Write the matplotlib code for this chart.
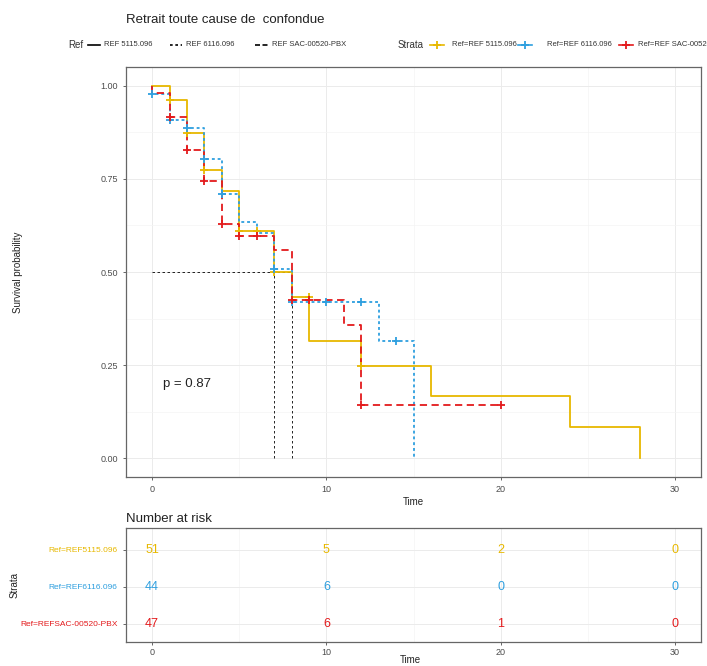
import matplotlib
matplotlib.use("Agg")
import matplotlib.pyplot as plt
from matplotlib.lines import Line2D
from matplotlib.ticker import MultipleLocator

plt.rcParams['font.family'] = ['Liberation Sans', 'DejaVu Sans']

# ---------------- data ----------------
strata_names = ["REF 5115.096", "REF 6116.096", "REF SAC-00520-PBX"]
colors = ["#E7B800", "#2E9FDF", "#E31A1C"]

# Kaplan-Meier step curves (time, survival)
t_5115 = [0, 1, 2, 3, 4, 5, 7, 8, 9, 12, 16, 24, 28]
s_5115 = [1.0, 0.961, 0.874, 0.775, 0.716, 0.609, 0.499, 0.434, 0.314, 0.249, 0.166, 0.083, 0.0]
cens_t_5115 = [1, 2, 3, 5, 6, 7, 9, 12]
cens_s_5115 = [0.961, 0.874, 0.775, 0.609, 0.609, 0.499, 0.434, 0.249]

t_6116 = [0, 0, 1, 2, 3, 4, 5, 6, 7, 8, 13, 15]
s_6116 = [1.0, 0.977, 0.909, 0.886, 0.803, 0.708, 0.635, 0.605, 0.509, 0.419, 0.314, 0.0]
cens_t_6116 = [0, 1, 2, 3, 4, 7, 8, 10, 12, 14]
cens_s_6116 = [0.977, 0.909, 0.886, 0.803, 0.708, 0.509, 0.419, 0.419, 0.419, 0.314]

t_sac = [0, 0, 1, 2, 3, 4, 5, 7, 8, 11, 12, 20]
s_sac = [1.0, 0.979, 0.915, 0.826, 0.745, 0.630, 0.597, 0.558, 0.426, 0.357, 0.143, 0.143]
cens_t_sac = [1, 2, 3, 4, 5, 6, 8, 9, 12, 20]
cens_s_sac = [0.915, 0.826, 0.745, 0.630, 0.597, 0.597, 0.426, 0.426, 0.143, 0.143]

# median survival
median_times = [7, 8]
median_level = 0.5

p_text = "p = 0.87"

# number at risk
risk_times = [0, 10, 20, 30]
risk_5115 = [51, 5, 2, 0]
risk_6116 = [44, 6, 0, 0]
risk_sac = [47, 6, 1, 0]
risk_labels = ["Ref=REF5115.096", "Ref=REF6116.096", "Ref=REFSAC-00520-PBX"]

# ---------------- figure ----------------
W, H = 707, 666
fig = plt.figure(figsize=(W / 100, H / 100), dpi=100)


def fx(px):
    return px / W


def fy(py):
    return 1 - py / H


ax = fig.add_axes([fx(126), fy(477), fx(701) - fx(126), fy(67) - fy(477)])
axr = fig.add_axes([fx(126), fy(642), fx(701) - fx(126), fy(528) - fy(642)])

grid_major = "#EBEBEB"
grid_minor = "#F4F4F4"
border = "#666666"
tick_col = "#4D4D4D"
text_col = "#222222"

for a in (ax, axr):
    for sp in a.spines.values():
        sp.set_color(border)
        sp.set_linewidth(0.9)
    a.tick_params(colors=tick_col, labelsize=6.5, length=2.5, width=0.6)
    a.set_axisbelow(True)

# main plot
styles = ["-", (0, (1.6, 1.6)), (0, (4, 2.5))]
curves = [(t_5115, s_5115, cens_t_5115, cens_s_5115),
          (t_6116, s_6116, cens_t_6116, cens_s_6116),
          (t_sac, s_sac, cens_t_sac, cens_s_sac)]

ax.hlines(median_level, 0, max(median_times), colors="black", linewidth=0.6,
          linestyles=(0, (3, 3)), zorder=2)
ax.vlines(median_times, 0, median_level, colors="black", linewidth=0.6,
          linestyles=(0, (3, 3)), zorder=2)

for (t, s, ct, cs), c, ls in zip(curves, colors, styles):
    ax.step(t, s, where="post", color=c, linestyle=ls, linewidth=1.3, zorder=3)
    ax.plot(ct, cs, linestyle="none", marker="+", markersize=6, mew=1.3,
            color=c, zorder=4)

ax.set_xlim(-1.5, 31.5)
ax.set_ylim(-0.05, 1.05)
ax.set_xticks([0, 10, 20, 30])
ax.set_yticks([0, 0.25, 0.5, 0.75, 1.0])
ax.set_yticklabels(["0.00", "0.25", "0.50", "0.75", "1.00"])
ax.xaxis.set_minor_locator(MultipleLocator(5))
ax.yaxis.set_minor_locator(MultipleLocator(0.125))
ax.tick_params(which="minor", length=0)
ax.grid(which="major", color=grid_major, linewidth=0.7)
ax.grid(which="minor", color=grid_minor, linewidth=0.5)
ax.set_xlabel("Time", fontsize=7, labelpad=2, color=text_col)
ax.text(0.65, 0.20, p_text, fontsize=9.5, color=text_col, va="center", ha="left")
fig.text(fx(18), fy(272), "Survival probability", fontsize=7, rotation=90,
         ha="center", va="center", color=text_col)

# risk table
rows = [3, 2, 1]
risks = [risk_5115, risk_6116, risk_sac]
for r, vals, c in zip(rows, risks, colors):
    for t, v in zip(risk_times, vals):
        axr.text(t, r, str(v), color=c, fontsize=9, ha="center", va="center")
axr.set_xlim(-1.5, 31.5)
axr.set_ylim(0.51, 3.59)
axr.set_xticks([0, 10, 20, 30])
axr.xaxis.set_minor_locator(MultipleLocator(5))
axr.tick_params(which="minor", length=0)
axr.tick_params(axis="x", pad=2)
axr.set_yticks(rows)
axr.set_yticklabels(risk_labels, fontsize=6)
for lab, c in zip(axr.get_yticklabels(), colors):
    lab.set_color(c)
axr.grid(which="major", color=grid_major, linewidth=0.7)
axr.grid(which="minor", axis="x", color=grid_minor, linewidth=0.5)
fig.text(fx(410), fy(660), "Time", fontsize=7, ha="center", va="center",
         color=text_col)
fig.text(fx(15), fy(585), "Strata", fontsize=7, rotation=90, ha="center",
         va="center", color=text_col)

# titles
fig.text(fx(126), fy(20), "Retrait toute cause de  confondue", fontsize=9.5,
         ha="left", va="center", color=text_col)
fig.text(fx(126), fy(519), "Number at risk", fontsize=9.5, ha="left",
         va="center", color=text_col)

# legend row
ly = fy(45)
fig.text(fx(68), ly, "Ref", fontsize=7, ha="left", va="center", color="#333333")
ref_items = [(88, 100, 104, "-"), (170, 182, 186, (0, (1.6, 1.6))),
             (255, 268, 272, (0, (3, 1.5)))]
for (x0, x1, xt, ls), name in zip(ref_items, strata_names):
    fig.add_artist(Line2D([fx(x0), fx(x1)], [ly, ly], color="black",
                          linewidth=1.2, linestyle=ls, transform=fig.transFigure))
    fig.text(fx(xt), ly, name, fontsize=5.5, ha="left", va="center", color="#333333")

fig.text(fx(398), ly, "Strata", fontsize=7, ha="left", va="center", color="#333333")
strata_items = [(430, 444, 452), (518, 532, 547), (619, 633, 638)]
for (x0, x1, xt), name, c in zip(strata_items, strata_names, colors):
    fig.add_artist(Line2D([fx(x0), fx(x1)], [ly, ly], color=c, linewidth=1.2,
                          transform=fig.transFigure))
    fig.add_artist(Line2D([fx((x0 + x1) / 2)], [ly], color=c, marker="+",
                          markersize=6, mew=1.3, transform=fig.transFigure))
    fig.text(fx(xt), ly, "Ref=" + name, fontsize=5.5, ha="left", va="center",
             color="#333333")

fig.savefig("out.png", dpi=100)
